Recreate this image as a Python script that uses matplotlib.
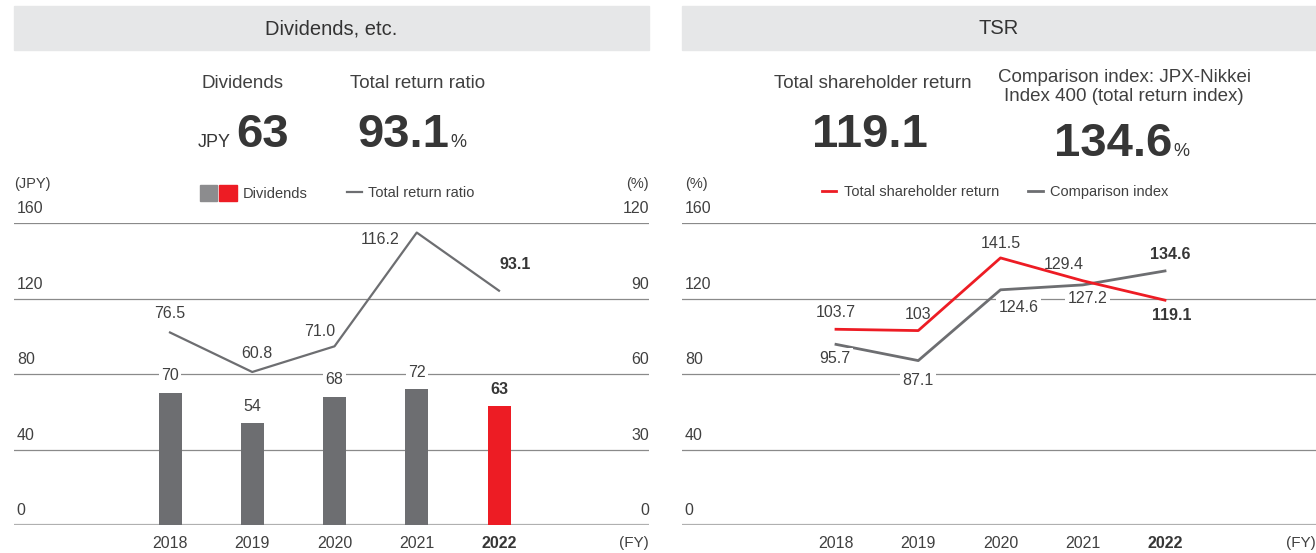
import matplotlib.pyplot as plt
from matplotlib.patches import Rectangle, Patch
from matplotlib.lines import Line2D
from matplotlib.legend_handler import HandlerTuple

plt.rcParams['font.family'] = ['Liberation Sans', 'DejaVu Sans']

years = ['2018', '2019', '2020', '2021', '2022']
dividends = [70, 54, 68, 72, 63]
return_ratio = [76.5, 60.8, 71.0, 116.2, 93.1]
ratio_labels = ['76.5', '60.8', '71.0', '116.2', '93.1']
tsr = [103.7, 103, 141.5, 129.4, 119.1]
tsr_labels = ['103.7', '103', '141.5', '129.4', '119.1']
comparison = [95.7, 87.1, 124.6, 127.2, 134.6]
comparison_labels = ['95.7', '87.1', '124.6', '127.2', '134.6']
left_ticks = [0, 40, 80, 120, 160]
right_ticks = [0, 30, 60, 90, 120]
tsr_ticks = [0, 40, 80, 120, 160]

GRAY = '#6d6e71'
RED = '#ed1c24'
TXT = '#404040'
DARK = '#363636'
GRID = '#8a8a8a'
W, H = 1316, 553

fig = plt.figure(figsize=(W / 100, H / 100), dpi=100)


def fx(x):
    return x / W


def fy(y):
    return 1 - y / H


def make_axes(x0, x1):
    ax = fig.add_axes([fx(x0), fy(525), fx(x1) - fx(x0), fy(223) - fy(525)])
    ax.set_ylim(0, 160)
    for s in ax.spines.values():
        s.set_visible(False)
    ax.set_xticks([])
    ax.set_yticks([])
    ax.patch.set_alpha(0)
    return ax


def grid_and_ticks(ax, ticks, right_ticks=None):
    for v in ticks:
        ax.axhline(v, color='#b0b0b0' if v == 0 else GRID,
                   lw=1.6 if v == 0 else 0.9, zorder=0)
        ax.annotate(str(v), (0, v), xycoords=ax.get_yaxis_transform(),
                    xytext=(2, 5), textcoords='offset points',
                    ha='left', va='bottom', fontsize=11.5, color=TXT)
    if right_ticks:
        for v, r in zip(ticks, right_ticks):
            ax.annotate(str(r), (1, v), xycoords=ax.get_yaxis_transform(),
                        xytext=(0, 5), textcoords='offset points',
                        ha='right', va='bottom', fontsize=11.5, color=TXT)
    for i, yr in enumerate(years):
        ax.annotate(yr, (i, 0), xycoords=('data', 'data'), xytext=(0, -8),
                    textcoords='offset points', ha='center', va='top',
                    fontsize=11.5, color=DARK if i == 4 else TXT,
                    fontweight='bold' if i == 4 else 'normal')
    ax.annotate('(FY)', (1, 0), xycoords=ax.get_yaxis_transform(),
                xytext=(0, -8), textcoords='offset points', ha='right',
                va='top', fontsize=11, color=TXT)


def label(ax, x, y, s, dx, dy, bold=False, box=False):
    # dx, dy in pixels, positive dy = up
    kw = {}
    if box:
        kw['bbox'] = dict(boxstyle='square,pad=0.15', fc='white', ec='none')
    ax.annotate(s, (x, y), xytext=(dx * 0.72, dy * 0.72),
                textcoords='offset points', ha='center', va='center',
                fontsize=11.5, color=DARK if bold else TXT,
                fontweight='bold' if bold else 'normal', zorder=4, **kw)


# header bars
for x0, x1, title in [(14, 649, 'Dividends, etc.'), (682, 1316, 'TSR')]:
    fig.patches.append(Rectangle((fx(x0), fy(50)), fx(x1) - fx(x0), fy(6) - fy(50),
                                 transform=fig.transFigure, color='#e6e7e8', zorder=0))
    fig.text(fx((x0 + x1) / 2), fy(29), title, ha='center', va='center',
             fontsize=14.5, color='#333333')

big = dict(fontsize=34, color=DARK, fontweight='bold', va='baseline')
head = dict(ha='center', va='center', fontsize=13.5, color=TXT)

# left header figures
fig.text(fx(242), fy(83), 'Dividends', **head)
fig.text(fx(231), fy(147), 'JPY', ha='right', va='baseline', fontsize=13, color=DARK)
fig.text(fx(236), fy(147), '63', ha='left', **big)
fig.text(fx(418), fy(83), 'Total return ratio', **head)
fig.text(fx(449), fy(147), '93.1', ha='right', **big)
fig.text(fx(450), fy(147), '%', ha='left', va='baseline', fontsize=13, color=DARK)

# right header figures
fig.text(fx(873), fy(83), 'Total shareholder return', **head)
fig.text(fx(870), fy(147), '119.1', ha='center', **big)
fig.text(fx(1124), fy(87), 'Comparison index: JPX-Nikkei\nIndex 400 (total return index)',
         linespacing=1.2, **head)
fig.text(fx(1172), fy(156), '134.6', ha='right', **big)
fig.text(fx(1173), fy(156), '%', ha='left', va='baseline', fontsize=13, color=DARK)

# ---- Dividends panel
step = 82.25
ax1 = make_axes(14, 649)
ax1.set_xlim(-(170 - 14) / step, 4 + (649 - 499) / step)
grid_and_ticks(ax1, left_ticks, right_ticks)
bar_colors = [GRAY] * 4 + [RED]
ax1.bar(range(5), dividends, width=23 / step, color=bar_colors, zorder=2)
ax2 = ax1.twinx()
ax2.set_ylim(0, 120)
ax2.set_yticks([])
for s in ax2.spines.values():
    s.set_visible(False)
ax2.plot(range(5), return_ratio, color=GRAY, lw=1.6, zorder=3)

for i, v in enumerate(dividends):
    label(ax1, i, v, str(v), 0, 17, bold=(i == 4), box=True)
ratio_off = [(0, 19), (5, 18), (-15, 15), (-37, -7), (16, 26)]
for i, (v, s) in enumerate(zip(return_ratio, ratio_labels)):
    label(ax2, i, v, s, ratio_off[i][0], ratio_off[i][1], bold=(i == 4))

ax1.annotate('(JPY)', (0, 160), xycoords=ax1.get_yaxis_transform(), xytext=(0, 23),
             textcoords='offset points', ha='left', va='bottom', fontsize=10.5, color=TXT)
ax1.annotate('(%)', (1, 160), xycoords=ax1.get_yaxis_transform(), xytext=(0, 23),
             textcoords='offset points', ha='right', va='bottom', fontsize=10.5, color=TXT)

leg1a = fig.legend(handles=[(Patch(color='#8c8c8e'), Patch(color=RED))],
                   labels=['Dividends'],
                   handler_map={tuple: HandlerTuple(ndivide=None, pad=0.15)},
                   loc='center left', bbox_to_anchor=(fx(187), fy(193)),
                   frameon=False, fontsize=10.5, handlelength=2.5, handleheight=1.35,
                   handletextpad=0.4)
leg1b = fig.legend(handles=[Line2D([], [], color=GRAY, lw=1.6)],
                   labels=['Total return ratio'],
                   loc='center left', bbox_to_anchor=(fx(334), fy(193)),
                   frameon=False, fontsize=10.5, handlelength=1.0, handletextpad=0.4)
for leg in (leg1a, leg1b):
    for t in leg.get_texts():
        t.set_color(TXT)

# ---- TSR panel
ax3 = make_axes(682, 1316)
ax3.set_xlim(-(836 - 682) / step, 4 + (1316 - 1165) / step)
grid_and_ticks(ax3, tsr_ticks)
ax3.plot(range(5), comparison, color=GRAY, lw=2.0, zorder=3)
ax3.plot(range(5), tsr, color=RED, lw=2.0, zorder=3)
tsr_off = [(0, 17), (0, 16), (0, 14), (-19, 16), (7, -15)]
for i, (v, s) in enumerate(zip(tsr, tsr_labels)):
    label(ax3, i, v, s, tsr_off[i][0], tsr_off[i][1], bold=(i == 4))
cmp_off = [(-1, -14), (0, -20), (18, -18), (5, -14), (5, 16)]
for i, (v, s) in enumerate(zip(comparison, comparison_labels)):
    label(ax3, i, v, s, cmp_off[i][0], cmp_off[i][1], bold=(i == 4), box=True)
ax3.annotate('(%)', (0, 160), xycoords=ax3.get_yaxis_transform(), xytext=(2, 23),
             textcoords='offset points', ha='left', va='bottom', fontsize=10.5, color=TXT)

leg2 = fig.legend(handles=[Line2D([], [], color=RED, lw=2), Line2D([], [], color=GRAY, lw=2)],
                  labels=['Total shareholder return', 'Comparison index'],
                  loc='center', bbox_to_anchor=(fx(995), fy(192)), ncol=2,
                  frameon=False, fontsize=10.5, handlelength=1.0,
                  columnspacing=2.0, handletextpad=0.5)
for t in leg2.get_texts():
    t.set_color(TXT)

fig.savefig('out.png', dpi=100, facecolor='white')
